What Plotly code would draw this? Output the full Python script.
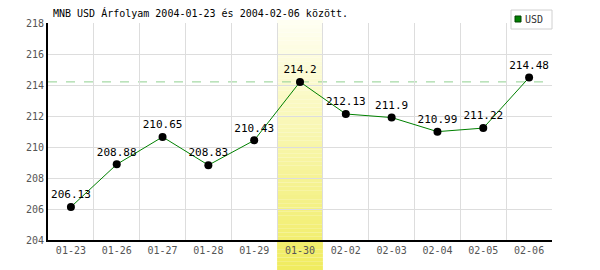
import plotly.graph_objects as go

dates = ["01-23", "01-26", "01-27", "01-28", "01-29", "01-30",
         "02-02", "02-03", "02-04", "02-05", "02-06"]
rates = [206.13, 208.88, 210.65, 208.83, 210.43, 214.2,
         212.13, 211.9, 210.99, 211.22, 214.48]
labels = ["206.13", "208.88", "210.65", "208.83", "210.43", "214.2",
          "212.13", "211.9", "210.99", "211.22", "214.48"]
ref_level = 214.2
highlight = "01-30"
y_ticks = [204, 206, 208, 210, 212, 214, 216, 218]
title = "MNB USD Árfolyam 2004-01-23 és 2004-02-06 között."
series_name = "USD"

FONT = "DejaVu Sans Mono"
W, H = 600, 270
L, R, T, B = 48, 48, 23, 30
PW, PH = W - L - R, H - T - B


def px_x(x):
    return (x - L) / PW


def px_y(y):
    return (H - B - y) / PH


fig = go.Figure()

# gradient highlight band (stripes)
hi = dates.index(highlight)
n = 60
y_top, y_bot = px_y(20), px_y(270)
c_top = (255, 255, 242)
c_bot = (240, 236, 96)
for i in range(n):
    t = i / (n - 1)
    col = tuple(round(c_top[k] + (c_bot[k] - c_top[k]) * t) for k in range(3))
    ya = y_top + (y_bot - y_top) * i / n
    yb = y_top + (y_bot - y_top) * (i + 1) / n
    fig.add_shape(type="rect", xref="x", yref="paper",
                  x0=hi - 0.5, x1=hi + 0.5, y0=yb, y1=ya,
                  fillcolor="rgb(%d,%d,%d)" % col, line_width=0, layer="below")

fig.add_shape(type="line", xref="paper", yref="y", x0=0, x1=1,
              y0=ref_level, y1=ref_level,
              line=dict(color="#8fd08f", width=1, dash="dash"), layer="below")

fig.add_trace(go.Scatter(
    x=dates, y=rates, mode="lines+markers+text",
    text=labels, textposition="top center",
    textfont=dict(family=FONT, size=11, color="black"),
    line=dict(color="#008000", width=1),
    marker=dict(color="black", size=8),
    showlegend=False, cliponaxis=False))

# compact legend box
fig.add_shape(type="rect", xref="paper", yref="paper",
              x0=px_x(511), x1=px_x(552), y0=px_y(29), y1=px_y(10),
              line=dict(color="#d0d0d0", width=1), fillcolor="white")
fig.add_shape(type="rect", xref="paper", yref="paper",
              x0=px_x(515), x1=px_x(521), y0=px_y(22), y1=px_y(16),
              line=dict(color="#004000", width=1), fillcolor="#008000")
fig.add_annotation(text=series_name, xref="paper", yref="paper",
                   x=px_x(523), y=px_y(19.5), xanchor="left", yanchor="middle",
                   showarrow=False, font=dict(family=FONT, size=10, color="#333"))

fig.update_layout(
    width=W, height=H,
    margin=dict(l=L, r=R, t=T, b=B),
    paper_bgcolor="white", plot_bgcolor="rgba(0,0,0,0)",
    showlegend=False,
    font=dict(family=FONT, size=10, color="#555"),
    title=dict(text=title, x=53 / W, xanchor="left", y=1 - 13 / H, yanchor="middle",
               font=dict(family=FONT, size=10, color="black")),
    xaxis=dict(type="category", range=[-0.5, len(dates) - 0.5],
               tickson="boundaries", showgrid=True, gridcolor="#dddddd",
               ticks="", showline=True, linecolor="black", linewidth=2,
               tickfont=dict(family=FONT, size=10, color="#555"),
               fixedrange=True),
    yaxis=dict(range=[204, 218], tickvals=y_ticks, showgrid=True,
               gridcolor="#dddddd", ticks="", showline=True,
               linecolor="black", linewidth=2, zeroline=False,
               tickfont=dict(family=FONT, size=10, color="#555")),
)

fig.write_html("out.html")
